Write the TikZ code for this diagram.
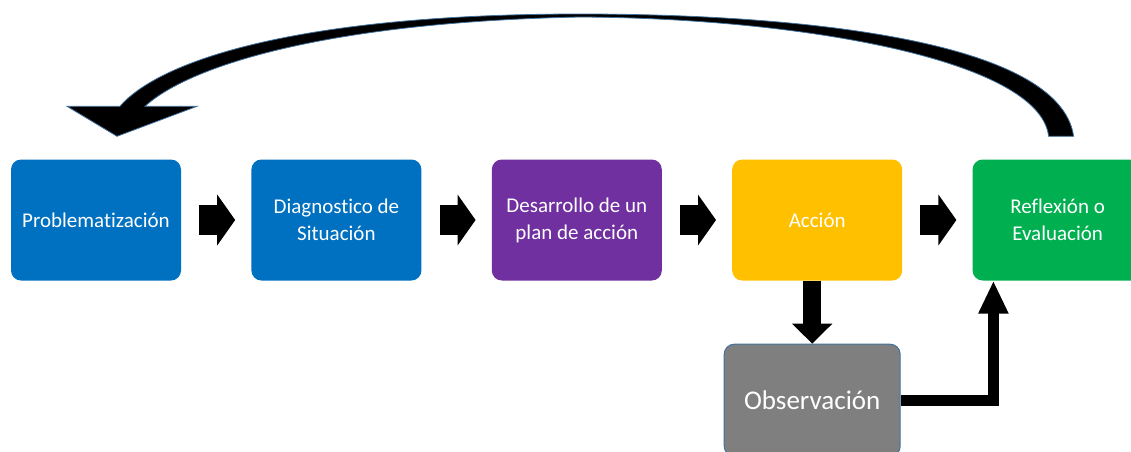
\documentclass[tikz,border=0pt]{standalone}
\usepackage{xcolor}
\usepackage{fontspec}
\setmainfont{Carlito}[Ligatures=NoCommon]
\usetikzlibrary{calc, positioning, arrows.meta}

\definecolor{stageblue}{RGB}{0,112,192}
\definecolor{stagepurple}{RGB}{112,48,160}
\definecolor{stagegold}{RGB}{255,192,0}
\definecolor{stagegreen}{RGB}{0,176,80}
\definecolor{stagegray}{RGB}{127,127,127}
\definecolor{edgeblue}{RGB}{65,113,156}

\begin{document}
\begin{tikzpicture}[x=1pt,y=-1pt,
                    stage/.style={rectangle,rounded corners=10pt,minimum width=170pt,minimum height=121pt,inner sep=0pt,align=center,text=white,font=\fontsize{21}{27}\selectfont},
                    chev/.style={line width=30pt,-{Triangle[length=18pt,width=50pt]}},
                    downarrow/.style={line width=18pt,-{Triangle[length=20pt,width=39pt]}},
                    uparrow/.style={line width=11pt,line join=miter,-{Triangle[length=33pt,width=28pt]}},
                    retarrow/.style={fill=black,draw=edgeblue,line width=0.8pt}]

  \useasboundingbox (0,0) rectangle (1131,451);

  \node[stage,fill=stageblue] (prob) at (96,220) {Problematización};
  \node[stage,fill=stageblue] (diag) [right=70pt of prob] {Diagnostico de\\Situación};
  \node[stage,fill=stagepurple] (plan) [right=70pt of diag] {Desarrollo de un\\plan de acción};
  \node[stage,fill=stagegold] (acc) [right=70pt of plan] {Acción};
  \node[stage,fill=stagegreen] (refl) [right=70pt of acc] {Reflexión o\\Evaluación};
  \node[stage,fill=stagegray,draw=edgeblue,line width=1pt,minimum width=176pt,minimum height=112pt,font=\fontsize{27}{32}\selectfont] (obs) [below=63pt of acc,xshift=-5pt] {Observación};

  \path[chev]
  ([xshift=18pt]prob.east) edge ([xshift=-16pt]diag.west)
  ([xshift=18pt]diag.east) edge ([xshift=-16pt]plan.west)
  ([xshift=18pt]plan.east) edge ([xshift=-16pt]acc.west)
  ([xshift=18pt]acc.east) edge ([xshift=-16pt]refl.west);

  \path[downarrow]
  (obs.north |- acc.south) edge (obs.north);

  \draw[uparrow] (obs.east) -| ($(refl.south west)+(21,0)$);

  % return arrow from the last stage back to the first
  \coordinate (ret-o) at ($(refl.north)+(16,-23)$);
  \coordinate (ret-i) at ($(refl.north)+(-9,-23)$);
  \coordinate (tip) at ($(prob.north)+(21,-23)$);
  \path[retarrow]
  (ret-i) -- (ret-o)
  .. controls (1060,40) and (800,14) .. (580,14)
  .. controls (300,14) and (160,60) .. ($(tip)+(3,-30)$)
  -- ($(tip)+(-50,-30)$) -- (tip) -- ($(tip)+(80,-30)$) -- ($(tip)+(28,-30)$)
  .. controls (190,65) and (330,22) .. (580,17)
  .. controls (800,18) and (1040,60) .. (ret-i)
  -- cycle;

\end{tikzpicture}
\end{document}
